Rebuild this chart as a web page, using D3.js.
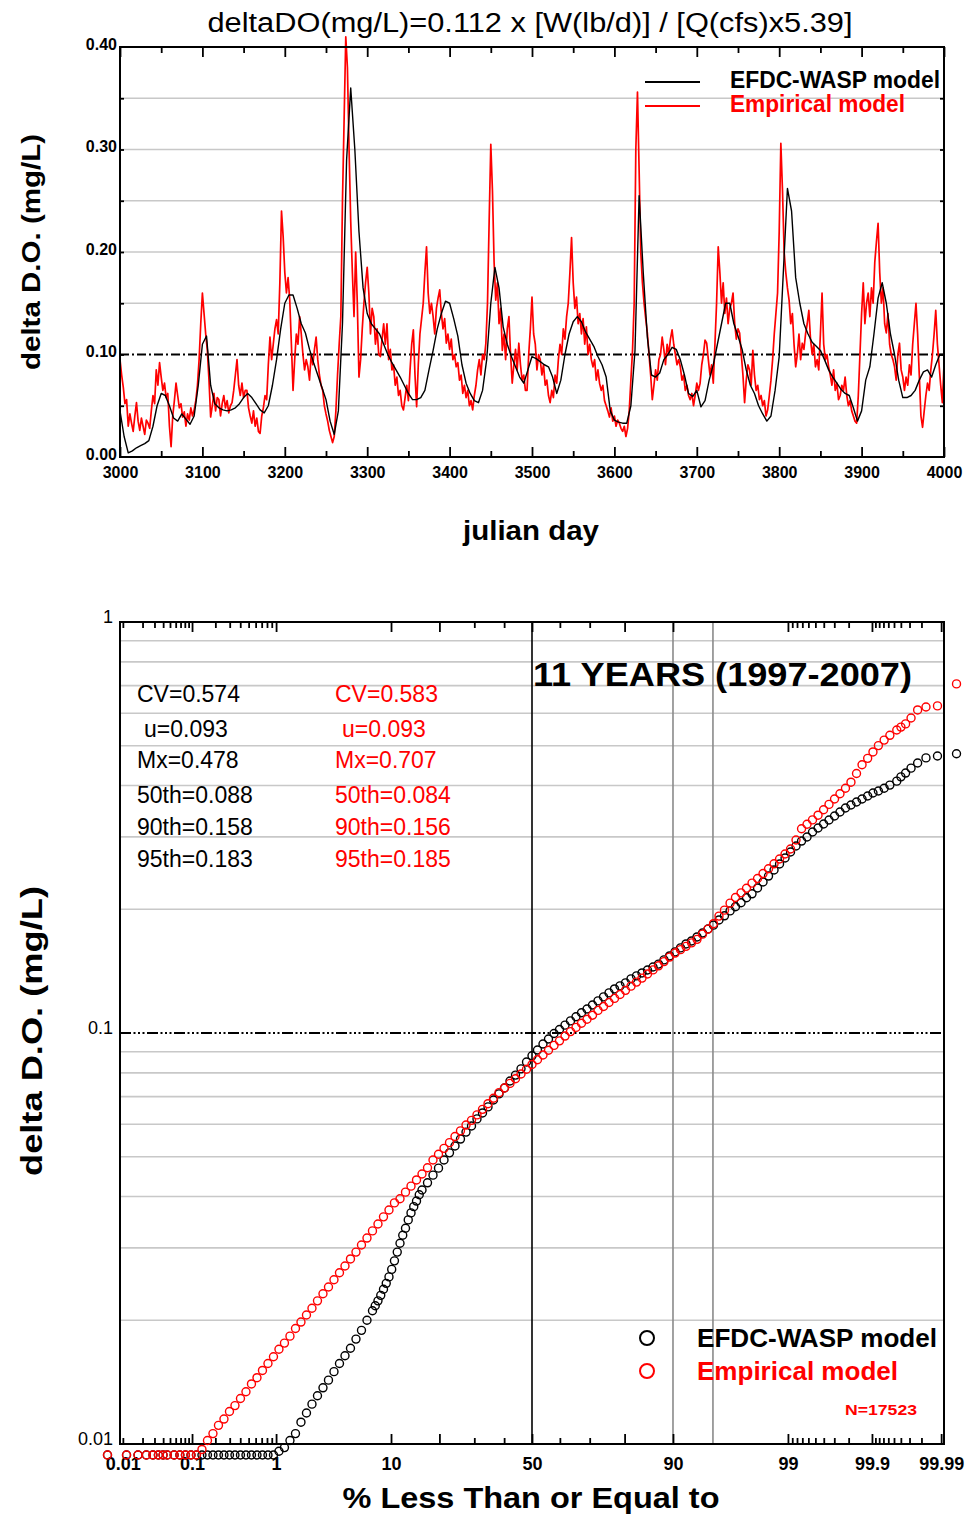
<!DOCTYPE html>
<html>
<head>
<meta charset="utf-8">
<script src="https://cdn.jsdelivr.net/npm/d3@7"></script>
<style>
  body { margin: 0; background: #fff; }
  svg { display: block; font-family: "Liberation Sans", Arial, sans-serif; }
</style>
</head>
<body>
<svg width="966" height="1518"></svg>
<script>
// ---------- top panel: delta DO time series, julian day 3000-4000 ----------
const dayStart = 3000;
const waspStep = 5;   // EFDC-WASP values every 5 days
const waspDaily = [
  .045,.020,.004,.006,.009,.011,.013,.016,.030,.050,.062,.060,.050,.038,.035,.042,.037,.032,.040,.070,
  .110,.118,.070,.052,.048,.046,.045,.046,.048,.052,.058,.062,.058,.052,.046,.043,.050,.070,.095,.125,
  .150,.158,.158,.145,.130,.121,.105,.092,.080,.068,.056,.035,.022,.045,.130,.290,.360,.300,.220,.165,
  .140,.130,.125,.120,.110,.100,.092,.085,.078,.070,.062,.056,.056,.058,.065,.085,.104,.125,.140,.152,
  .150,.135,.118,.090,.072,.062,.055,.053,.065,.095,.150,.185,.165,.127,.110,.098,.088,.078,.072,.085,
  .098,.096,.093,.090,.088,.078,.062,.075,.100,.120,.132,.137,.132,.122,.115,.108,.098,.090,.078,.045,
  .036,.034,.033,.033,.050,.104,.255,.180,.117,.080,.078,.082,.095,.100,.107,.105,.095,.080,.062,.059,
  .065,.049,.055,.075,.090,.110,.130,.150,.150,.130,.118,.105,.085,.070,.062,.050,.042,.035,.040,.065,
  .098,.180,.262,.240,.175,.150,.130,.120,.112,.108,.104,.095,.085,.078,.072,.066,.062,.060,.048,.035,
  .045,.075,.088,.120,.155,.170,.150,.120,.100,.075,.058,.058,.060,.065,.075,.083,.085,.078,.090,.100,
  .100
];
const empStep = 2;    // empirical model values every 2 days
const empDaily = [
  .095,.080,.068,.052,.056,.030,.042,.033,.025,.040,.053,.035,.026,.038,.030,.022,.036,.033,.028,.045,.060,.052,.085,.070,.092,
  .078,.065,.072,.058,.062,.030,.010,.040,.055,.072,.060,.048,.052,.039,.044,.030,.042,.036,.048,.040,.046,.055,.070,.095,.130,
  .160,.140,.120,.104,.075,.039,.050,.062,.045,.058,.056,.040,.052,.060,.048,.055,.043,.050,.053,.065,.080,.095,.070,.060,.072,
  .058,.065,.065,.048,.040,.033,.045,.030,.038,.025,.023,.040,.048,.060,.056,.090,.117,.095,.110,.125,.134,.120,.170,.240,.215,
  .180,.160,.175,.153,.110,.065,.095,.120,.110,.137,.120,.100,.085,.095,.088,.075,.100,.090,.105,.117,.095,.080,.070,.065,.050,
  .042,.035,.026,.020,.014,.020,.045,.080,.110,.137,.250,.330,.410,.380,.300,.230,.180,.137,.200,.150,.078,.095,.125,.150,.170,
  .185,.160,.120,.145,.137,.110,.125,.100,.098,.115,.130,.110,.130,.095,.105,.085,.090,.070,.078,.060,.065,.050,.046,.058,.070,
  .055,.085,.110,.124,.080,.049,.090,.120,.135,.150,.180,.205,.160,.140,.150,.137,.120,.145,.155,.163,.140,.125,.135,.111,.120,
  .105,.115,.095,.100,.088,.092,.075,.080,.062,.070,.058,.065,.050,.055,.046,.060,.070,.085,.095,.080,.100,.095,.111,.150,.230,
  .305,.260,.190,.153,.170,.130,.145,.104,.120,.095,.125,.137,.100,.072,.090,.105,.085,.111,.090,.075,.080,.065,.065,.100,.125,
  .156,.120,.110,.085,.100,.095,.080,.090,.070,.075,.060,.053,.065,.058,.080,.072,.095,.110,.100,.125,.115,.137,.150,.180,.214,
  .170,.145,.156,.130,.140,.120,.135,.110,.127,.100,.110,.095,.088,.095,.075,.085,.072,.065,.070,.055,.050,.045,.039,.048,.035,
  .040,.030,.036,.033,.028,.025,.030,.020,.028,.045,.075,.104,.150,.300,.356,.280,.200,.170,.150,.135,.121,.100,.080,.056,.070,
  .085,.075,.095,.100,.117,.105,.090,.110,.100,.115,.124,.110,.100,.090,.095,.088,.075,.080,.065,.070,.060,.056,.062,.050,.060,
  .072,.065,.072,.090,.100,.114,.111,.095,.080,.090,.072,.110,.150,.205,.180,.150,.170,.140,.155,.130,.145,.150,.160,.130,.115,
  .125,.121,.100,.080,.053,.075,.090,.085,.070,.104,.080,.065,.070,.056,.060,.050,.055,.040,.046,.060,.075,.095,.120,.140,.160,
  .220,.306,.260,.200,.180,.165,.153,.130,.140,.110,.088,.100,.120,.095,.111,.105,.120,.130,.143,.115,.100,.110,.088,.095,.085,
  .120,.160,.110,.095,.100,.088,.080,.070,.085,.065,.072,.056,.060,.070,.065,.078,.060,.050,.055,.045,.040,.035,.033,.060,.100,
  .140,.170,.130,.150,.160,.137,.165,.150,.190,.210,.228,.180,.150,.165,.130,.121,.140,.110,.100,.095,.088,.075,.100,.111,.085,
  .078,.065,.078,.070,.090,.080,.110,.130,.150,.120,.080,.040,.029,.045,.060,.072,.065,.085,.100,.120,.143,.110,.090,.070,.053,
  .090
];
const dayTicks = [3000,3100,3200,3300,3400,3500,3600,3700,3800,3900,4000];
const dayMinor = [3050,3150,3250,3350,3450,3550,3650,3750,3850,3950];
const doTicks = [0, 0.1, 0.2, 0.3, 0.4];
const doGrid = [0.05, 0.15, 0.2, 0.25, 0.3, 0.35];
const doRef = 0.1;

// ---------- bottom panel: probability plot ----------
const plotPct = [
  0.0057,0.0114,0.0171,0.0228,0.0285,0.0342,0.0399,0.0457,0.0571,0.0685,
  0.0816,0.0968,0.1144,0.1350,0.1589,0.1866,0.2186,0.2555,0.2980,0.3467,0.4025,0.4661,0.5386,0.6210,0.7143,0.8198,0.9387,
  1.072,1.222,1.390,1.578,1.786,2.018,2.275,2.559,2.872,3.216,3.593,4.006,4.457,4.947,5.480,6.057,6.681,7.353,7.71,8.076,8.46,8.851,9.26,9.680,10.11,
  10.56,11.03,11.51,12.00,12.51,13.03,13.57,14.12,14.69,15.27,15.87,17.11,18.41,19.77,21.19,22.66,24.20,25.78,27.43,29.12,30.85,32.64,34.46,36.32,38.21,40.13,42.07,44.04,46.02,48.01,
  50,
  51.99,53.98,55.96,57.93,59.87,61.79,63.68,65.54,67.36,69.15,70.88,72.57,74.22,75.80,77.34,78.81,80.23,81.59,82.89,84.13,85.31,86.43,87.49,88.49,89.44,
  90.32,91.15,91.92,92.65,93.32,93.94,94.52,95.05,95.54,95.99,96.41,96.78,97.13,97.44,97.725,97.982,98.214,98.422,98.610,98.778,98.928,
  99.061,99.180,99.286,99.379,99.461,99.534,99.598,99.653,99.702,99.744,99.781,99.813,99.841,99.865,99.886,99.903,99.918,
  99.9315,99.9429,99.9543,99.9601,99.9658,99.9715,99.9772,99.9829,99.9886,99.9943
];
const waspDO = [
  .0094,.0094,.0094,.0094,.0094,.0094,.0094,.0094,.0094,.0094,
  .0094,.0094,.0094,.0094,.0094,.0094,.0094,.0094,.0094,.0094,.0094,.0094,.0094,.0094,.0094,.0094,.0094,
  .0096,.0098,.0102,.0106,.0113,.0119,.0125,.0131,.0137,.0143,.0150,.0157,.0164,.0171,.0180,.0189,.0200,.0211,.0217,.0223,.0230,.0238,.0246,.0255,.0266,
  .0279,.0293,.0308,.0322,.0335,.0351,.0365,.0378,.0390,.0404,.0415,.0432,.0451,.0469,.0491,.0511,.0531,.0552,.0574,.0594,.0618,.0639,.0661,.0687,.0711,.0735,.0764,.0790,.0818,.0850,
  .0880,
  .0909,.0940,.0967,.0997,.1020,.1045,.1070,.1095,.1120,.1144,.1170,.1197,.1224,.1252,.1280,.1302,.1324,.1354,.1377,.1400,.1423,.1447,.1471,.1506,.1540,
  .1575,.1611,.1647,.1675,.1713,.1751,.1791,.1830,.1884,.1928,.1982,.2028,.2074,.2133,.2181,.2253,.2330,.2409,.2492,.2578,.2666,
  .2757,.2851,.2931,.2998,.3083,.3153,.3225,.3298,.3373,.3449,.3528,.3587,.3648,.3710,.3772,.3836,.3880,
  .394,.401,.410,.420,.429,.441,.454,.467,.472,.478
];
// null = no empirical point at that plotting position
const empDO = [
  .0094,.0094,.0094,.0094,.0094,.0094,.0094,.0094,.0094,.0094,
  .0094,.0094,.0094,.0097,.0102,.0106,.0111,.0115,.0120,.0124,.0129,.0134,.0140,.0145,.0151,.0157,.0163,
  .0170,.0176,.0183,.0191,.0198,.0206,.0214,.0223,.0232,.0241,.0251,.0261,.0271,.0282,.0293,.0305,.0317,.0330,null,.0343,null,.0357,null,.0371,null,
  .0386,null,.0395,null,.0410,null,.0424,null,.0439,null,.0454,.0470,.0491,.0507,.0524,.0541,.0560,.0578,.0597,.0613,.0632,.0652,.0673,.0694,.0716,.0735,.0754,.0774,.0795,.0816,
  .0838,
  .0861,.0884,.0908,.0933,.0957,.0983,.1008,.1032,.1056,.1080,.1105,.1135,.1160,.1186,.1214,.1241,.1270,.1300,.1330,.1360,.1392,.1424,.1457,.1492,.1530,
  .1565,.1595,.1625,.1657,.1690,.1740,.1790,.1845,.1925,.1990,.2070,.2137,.2193,.2250,.2315,.2376,.2443,.2510,.2580,.2651,.2726,
  .2804,.2948,.3141,.3220,.3300,.3388,.3493,.3599,.3710,.3821,.3940,.4076,.4280,.4495,.4658,.4829,.5004,
  .516,.530,.546,.555,.565,.584,.611,.621,.625,.707
];
const probLabelPct = [0.01, 0.1, 1, 10, 50, 90, 99, 99.9, 99.99];
const probLabels = ["0.01", "0.1", "1", "10", "50", "90", "99", "99.9", "99.99"];
const probMajor = [0.1, 1, 10, 20, 50, 80, 90, 99, 99.9, 99.99];
const probMinor = [0.01,0.02,0.03,0.04,0.05,0.06,0.07,0.08,0.09,0.2,0.3,0.4,0.5,0.6,0.7,0.8,0.9,
  30,40,60,70,99.1,99.2,99.3,99.4,99.5,99.6,99.7,99.8,99.91,99.92,99.93,99.94,99.95,99.96,99.97,99.98];
const pctLines = [90, 95];
const logTicks = [0.01, 0.1, 1];
const logGrid = [0.02,0.03,0.04,0.05,0.06,0.07,0.08,0.09,0.2,0.3,0.4,0.5,0.6,0.7,0.8,0.9];
const statNames = ["CV", "u", "Mx", "50th", "90th", "95th"];
const waspStats = ["0.574", "0.093", "0.478", "0.088", "0.158", "0.183"];
const empStats = ["0.583", "0.093", "0.707", "0.084", "0.156", "0.185"];
const nObs = 17523;

const FONT = '"Liberation Sans", Arial, sans-serif';
const RED = "#ff0000";
const GRID = "#c8c8c8";

// inverse standard normal (Acklam)
function probit(p) {
  const a = [-3.969683028665376e+01, 2.209460984245205e+02, -2.759285104469687e+02, 1.383577518672690e+02, -3.066479806614716e+01, 2.506628277459239e+00];
  const b = [-5.447609879822406e+01, 1.615858368580409e+02, -1.556989798598866e+02, 6.680131188771972e+01, -1.328068155288572e+01];
  const c = [-7.784894002430293e-03, -3.223964580411365e-01, -2.400758277161838e+00, -2.549732539343734e+00, 4.374664141464968e+00, 2.938163982698783e+00];
  const d = [7.784695709041462e-03, 3.224671290700398e-01, 2.445134137142996e+00, 3.754408661907416e+00];
  const pl = 0.02425;
  let q, r;
  if (p < pl) {
    q = Math.sqrt(-2 * Math.log(p));
    return (((((c[0]*q+c[1])*q+c[2])*q+c[3])*q+c[4])*q+c[5]) / ((((d[0]*q+d[1])*q+d[2])*q+d[3])*q+1);
  }
  if (p > 1 - pl) {
    q = Math.sqrt(-2 * Math.log(1 - p));
    return -(((((c[0]*q+c[1])*q+c[2])*q+c[3])*q+c[4])*q+c[5]) / ((((d[0]*q+d[1])*q+d[2])*q+d[3])*q+1);
  }
  q = p - 0.5; r = q * q;
  return (((((a[0]*r+a[1])*r+a[2])*r+a[3])*r+a[4])*r+a[5])*q / (((((b[0]*r+b[1])*r+b[2])*r+b[3])*r+b[4])*r+1);
}
const zOf = (pct) => probit(pct / 100);

const svg = d3.select("svg");

function styleAxis(g, size, weight) {
  g.attr("font-family", FONT).attr("font-size", size).attr("font-weight", weight);
  g.select(".domain").remove();
  g.selectAll(".tick line").attr("stroke", "#000").attr("stroke-width", 1.8);
  g.selectAll(".tick text").attr("fill", "#000");
}

// ===================== TOP PANEL =====================
const xDay = d3.scaleLinear().domain([3000, 4000]).range([120, 944]);
const yDO = d3.scaleLinear().domain([0, 0.4]).range([457, 47]);
const topG = svg.append("g");

topG.selectAll("line.grid").data(doGrid).join("line")
  .attr("x1", xDay(3000)).attr("x2", xDay(4000))
  .attr("y1", d => yDO(d)).attr("y2", d => yDO(d))
  .attr("stroke", GRID).attr("stroke-width", 1.6);

topG.append("line")
  .attr("x1", xDay(3000)).attr("x2", xDay(4000))
  .attr("y1", yDO(doRef)).attr("y2", yDO(doRef))
  .attr("stroke", "#000").attr("stroke-width", 1.8)
  .attr("stroke-dasharray", "9,3,2,3");

// series
const empLine = d3.line().x((d, i) => xDay(dayStart + i * empStep)).y(d => yDO(d));
const waspLine = d3.line().x((d, i) => xDay(dayStart + i * waspStep)).y(d => yDO(d));
topG.append("path").datum(empDaily).attr("d", empLine)
  .attr("fill", "none").attr("stroke", RED).attr("stroke-width", 1.7).attr("stroke-linejoin", "round");
topG.append("path").datum(waspDaily).attr("d", waspLine)
  .attr("fill", "none").attr("stroke", "#000").attr("stroke-width", 1.4).attr("stroke-linejoin", "round");

// axes
topG.append("g").attr("transform", "translate(0,457)")
  .call(d3.axisBottom(xDay).tickValues(dayTicks).tickSize(-10).tickSizeOuter(0).tickPadding(10).tickFormat(d3.format("d")))
  .call(g => styleAxis(g, 16, "bold"));
topG.append("g").attr("transform", "translate(0,457)")
  .call(d3.axisBottom(xDay).tickValues(dayMinor).tickSize(-6).tickSizeOuter(0).tickFormat(""))
  .call(g => styleAxis(g, 16, "bold"));
topG.append("g").attr("transform", "translate(0,47)")
  .call(d3.axisTop(xDay).tickValues(dayTicks).tickSize(-10).tickSizeOuter(0).tickFormat(""))
  .call(g => styleAxis(g, 16, "bold"));
topG.append("g").attr("transform", "translate(0,47)")
  .call(d3.axisTop(xDay).tickValues(dayMinor).tickSize(-6).tickSizeOuter(0).tickFormat(""))
  .call(g => styleAxis(g, 16, "bold"));
topG.append("g").attr("transform", "translate(120,0)")
  .call(d3.axisLeft(yDO).tickValues(doTicks).tickSize(0).tickPadding(3).tickFormat(d3.format(".2f")))
  .call(g => styleAxis(g, 16, "bold"))
  .call(g => g.selectAll(".tick text").attr("dy", "0.15em"));
topG.append("g").attr("transform", "translate(120,0)")
  .call(d3.axisLeft(yDO).tickValues(doGrid.concat([doRef])).tickSize(-4).tickSizeOuter(0).tickFormat(""))
  .call(g => styleAxis(g, 16, "bold"));
topG.append("g").attr("transform", "translate(944,0)")
  .call(d3.axisRight(yDO).tickValues(doGrid.concat([doRef])).tickSize(-4).tickSizeOuter(0).tickFormat(""))
  .call(g => styleAxis(g, 16, "bold"));

topG.append("rect").attr("x", 120).attr("y", 47).attr("width", 824).attr("height", 410)
  .attr("fill", "none").attr("stroke", "#000").attr("stroke-width", 2);

// titles
topG.append("text").attr("x", 530).attr("y", 32).attr("text-anchor", "middle")
  .attr("font-family", FONT).attr("font-size", 27)
  .attr("textLength", 645).attr("lengthAdjust", "spacingAndGlyphs")
  .text("deltaDO(mg/L)=0.112 x [W(lb/d)] / [Q(cfs)x5.39]");
topG.append("text").attr("transform", "translate(40,252) rotate(-90)").attr("text-anchor", "middle")
  .attr("font-family", FONT).attr("font-size", 26).attr("font-weight", "bold")
  .attr("textLength", 236).attr("lengthAdjust", "spacingAndGlyphs")
  .text("delta D.O. (mg/L)");
topG.append("text").attr("x", 531).attr("y", 540).attr("text-anchor", "middle")
  .attr("font-family", FONT).attr("font-size", 27).attr("font-weight", "bold")
  .attr("textLength", 136).attr("lengthAdjust", "spacingAndGlyphs")
  .text("julian day");

// legend
const topLegend = [
  { name: "EFDC-WASP model", color: "#000", y: 82, w: 210 },
  { name: "Empirical model", color: RED, y: 106, w: 175 }
];
const tl = topG.selectAll("g.leg").data(topLegend).join("g");
tl.append("line").attr("x1", 645).attr("x2", 700).attr("y1", d => d.y).attr("y2", d => d.y)
  .attr("stroke", d => d.color).attr("stroke-width", 2);
tl.append("text").attr("x", 730).attr("y", d => d.y + 6)
  .attr("font-family", FONT).attr("font-size", 23).attr("font-weight", "bold")
  .attr("fill", d => d.color)
  .attr("textLength", d => d.w).attr("lengthAdjust", "spacingAndGlyphs")
  .text(d => d.name);

// ===================== BOTTOM PANEL =====================
const xZ = d3.scaleLinear().domain([-3.745, 3.745]).range([120, 944]);
const yLog = d3.scaleLog().domain([0.01, 1]).range([1444, 622]);
const botG = svg.append("g");

botG.selectAll("line.hgrid").data(logGrid).join("line")
  .attr("x1", 120).attr("x2", 944)
  .attr("y1", d => yLog(d)).attr("y2", d => yLog(d))
  .attr("stroke", GRID).attr("stroke-width", 1.6);

botG.append("line").attr("x1", 120).attr("x2", 944)
  .attr("y1", yLog(0.1)).attr("y2", yLog(0.1))
  .attr("stroke", "#000").attr("stroke-width", 1.8)
  .attr("stroke-dasharray", "11,2.5,2,2.5,2,2.5,2,2.5");

botG.append("line").attr("x1", xZ(0)).attr("x2", xZ(0)).attr("y1", 622).attr("y2", 1444)
  .attr("stroke", "#000").attr("stroke-width", 1.6);
botG.selectAll("line.pline").data(pctLines).join("line")
  .attr("x1", d => xZ(zOf(d))).attr("x2", d => xZ(zOf(d)))
  .attr("y1", 622).attr("y2", 1444)
  .attr("stroke", "#8a8a8a").attr("stroke-width", 1.6);

// ticks
function probAxis(axisFn, y, vals, size, labels) {
  const ax = axisFn(xZ).tickValues(vals.map(zOf)).tickSize(-size).tickSizeOuter(0);
  if (labels) ax.tickFormat((d, i) => labels[i]).tickPadding(13);
  else ax.tickFormat("");
  botG.append("g").attr("transform", `translate(0,${y})`).call(ax).call(g => styleAxis(g, 18, "bold"));
}
probAxis(d3.axisBottom, 1444, probMajor, 10, null);
probAxis(d3.axisBottom, 1444, probMinor, 6, null);
probAxis(d3.axisBottom, 1444, probLabelPct, 0, probLabels);
probAxis(d3.axisTop, 622, probMajor, 10, null);
probAxis(d3.axisTop, 622, probMinor, 6, null);

botG.append("g").attr("transform", "translate(120,0)")
  .call(d3.axisLeft(yLog).tickValues(logTicks).tickSize(0).tickPadding(7).tickFormat(d => String(d)))
  .call(g => styleAxis(g, 18, "normal"))
  .call(g => g.selectAll(".tick text").attr("dy", "0em"));

botG.append("rect").attr("x", 120).attr("y", 622).attr("width", 824).attr("height", 822)
  .attr("fill", "none").attr("stroke", "#000").attr("stroke-width", 2);

// points
const waspPts = plotPct.map((p, i) => ({ z: zOf(p), v: waspDO[i] }));
const empPts = plotPct.map((p, i) => ({ z: zOf(p), v: empDO[i] })).filter(d => d.v != null);
botG.append("g").selectAll("circle").data(waspPts).join("circle")
  .attr("cx", d => xZ(d.z)).attr("cy", d => yLog(d.v)).attr("r", 4)
  .attr("fill", "none").attr("stroke", "#000").attr("stroke-width", 1.4);
botG.append("g").selectAll("circle").data(empPts).join("circle")
  .attr("cx", d => xZ(d.z)).attr("cy", d => yLog(d.v)).attr("r", 4)
  .attr("fill", "none").attr("stroke", RED).attr("stroke-width", 1.4);

// stats
const statRowsY = [702, 737, 768, 803, 835, 867];
const statCols = [
  { x: 137, color: "#000", vals: waspStats },
  { x: 335, color: RED, vals: empStats }
];
statCols.forEach(col => {
  botG.append("g").selectAll("text").data(statNames).join("text")
    .attr("x", d => d === "u" ? col.x + 7 : col.x)
    .attr("y", (d, i) => statRowsY[i])
    .attr("font-family", FONT).attr("font-size", 23).attr("fill", col.color)
    .text((d, i) => `${d}=${col.vals[i]}`);
});

botG.append("text").attr("x", 533).attr("y", 686)
  .attr("font-family", FONT).attr("font-size", 34).attr("font-weight", "bold")
  .attr("textLength", 379).attr("lengthAdjust", "spacingAndGlyphs")
  .text("11 YEARS (1997-2007)");

// legend
const botLegend = [
  { name: "EFDC-WASP model", color: "#000", y: 1338, w: 240 },
  { name: "Empirical model", color: RED, y: 1371, w: 201 }
];
const bl = botG.selectAll("g.bleg").data(botLegend).join("g");
bl.append("circle").attr("cx", 647).attr("cy", d => d.y).attr("r", 7)
  .attr("fill", "none").attr("stroke", d => d.color).attr("stroke-width", 2);
bl.append("text").attr("x", 697).attr("y", d => d.y + 9)
  .attr("font-family", FONT).attr("font-size", 26).attr("font-weight", "bold")
  .attr("fill", d => d.color)
  .attr("textLength", d => d.w).attr("lengthAdjust", "spacingAndGlyphs")
  .text(d => d.name);

botG.append("text").attr("x", 845).attr("y", 1415)
  .attr("font-family", FONT).attr("font-size", 14).attr("font-weight", "bold").attr("fill", RED)
  .attr("textLength", 72).attr("lengthAdjust", "spacingAndGlyphs")
  .text(`N=${nObs}`);

botG.append("text").attr("transform", "translate(42,1031) rotate(-90)").attr("text-anchor", "middle")
  .attr("font-family", FONT).attr("font-size", 30).attr("font-weight", "bold")
  .attr("textLength", 290).attr("lengthAdjust", "spacingAndGlyphs")
  .text("delta D.O. (mg/L)");
botG.append("text").attr("x", 531).attr("y", 1508).attr("text-anchor", "middle")
  .attr("font-family", FONT).attr("font-size", 30).attr("font-weight", "bold")
  .attr("textLength", 377).attr("lengthAdjust", "spacingAndGlyphs")
  .text("% Less Than or Equal to");
</script>
</body>
</html>
